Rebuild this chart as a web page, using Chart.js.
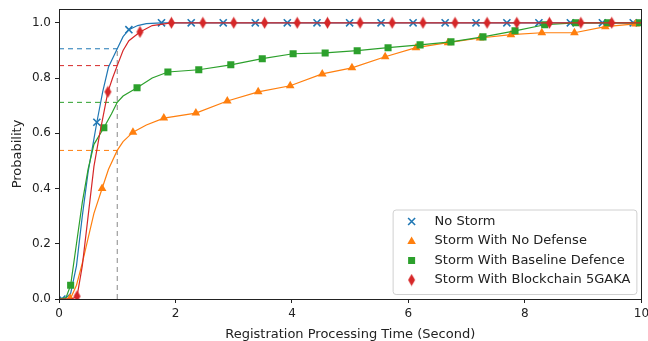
<!DOCTYPE html>
<html>
<head>
<meta charset="utf-8">
<script src="https://cdn.jsdelivr.net/npm/chart.js@4"></script>
<style>
    html, body { margin: 0; padding: 0; background: #fff; }
</style>
</head>
<body>
<canvas id="cdfChart" width="648" height="341"></canvas>
<script>
// series labels
const seriesLabels = ['No Storm', 'Storm With No Defense', 'Storm With Baseline Defence', 'Storm With Blockchain 5GAKA'];

// line paths
const noStormX = [0, 0.1, 0.2, 0.3, 0.4, 0.5, 0.6, 0.65, 0.75, 0.85, 1.0, 1.1, 1.2, 1.35, 1.5, 1.76, 10];
const noStormY = [0, 0.0, 0.02, 0.12, 0.3, 0.46, 0.58, 0.64, 0.75, 0.84, 0.906, 0.95, 0.975, 0.99, 0.997, 1.0, 1.0];
const noDefX = [0, 0.15, 0.2, 0.3, 0.4, 0.5, 0.6, 0.74, 0.85, 1.0, 1.1, 1.27, 1.5, 1.8, 2.35, 2.89, 3.42, 3.97, 4.52, 5.03, 5.6, 6.13, 6.68, 7.23, 7.76, 8.29, 8.85, 9.38, 9.9, 10];
const noDefY = [0, 0.0, 0.003, 0.05, 0.13, 0.22, 0.31, 0.40, 0.47, 0.538, 0.57, 0.604, 0.63, 0.655, 0.673, 0.717, 0.75, 0.772, 0.815, 0.837, 0.877, 0.91, 0.928, 0.945, 0.957, 0.964, 0.964, 0.986, 0.996, 1.0];
const baselineX = [0, 0.12, 0.2, 0.3, 0.4, 0.5, 0.6, 0.77, 0.9, 1.0, 1.1, 1.34, 1.6, 1.87, 2.4, 2.95, 3.49, 4.02, 4.57, 5.12, 5.65, 6.2, 6.73, 7.28, 7.83, 8.34, 8.87, 9.42, 9.97, 10];
const baselineY = [0, 0.005, 0.05, 0.2, 0.35, 0.47, 0.56, 0.62, 0.67, 0.712, 0.735, 0.765, 0.8, 0.822, 0.83, 0.848, 0.87, 0.888, 0.891, 0.899, 0.91, 0.92, 0.931, 0.949, 0.971, 0.993, 1.0, 1.0, 1.0, 1.0];
const blockX = [0, 0.22, 0.31, 0.4, 0.5, 0.6, 0.7, 0.84, 0.92, 1.0, 1.1, 1.2, 1.39, 1.6, 1.93, 10];
const blockY = [0, 0.0, 0.01, 0.12, 0.3, 0.48, 0.6, 0.75, 0.8, 0.845, 0.9, 0.935, 0.967, 0.99, 1.0, 1.0];

// marker positions
const noStormMarkX = [0.05, 0.65, 1.2, 1.76, 2.27, 2.82, 3.37, 3.92, 4.43, 4.99, 5.53, 6.08, 6.63, 7.16, 7.69, 8.24, 8.78, 9.33, 9.86];
const noStormMarkY = [0.0, 0.64, 0.975, 1, 1, 1, 1, 1, 1, 1, 1, 1, 1, 1, 1, 1, 1, 1, 1];
const noDefMarkX = [0.19, 0.74, 1.27, 1.8, 2.35, 2.89, 3.42, 3.97, 4.52, 5.03, 5.6, 6.13, 6.68, 7.23, 7.76, 8.29, 8.85, 9.38, 9.9];
const noDefMarkY = [0.003, 0.40, 0.604, 0.655, 0.673, 0.717, 0.75, 0.772, 0.815, 0.837, 0.877, 0.91, 0.928, 0.945, 0.957, 0.964, 0.964, 0.986, 0.996];
const baselineMarkX = [0.2, 0.77, 1.34, 1.87, 2.4, 2.95, 3.49, 4.02, 4.57, 5.12, 5.65, 6.2, 6.73, 7.28, 7.83, 8.34, 8.87, 9.42, 9.97];
const baselineMarkY = [0.05, 0.62, 0.765, 0.822, 0.83, 0.848, 0.87, 0.888, 0.891, 0.899, 0.91, 0.92, 0.931, 0.949, 0.971, 0.993, 1.0, 1.0, 1.0];
const blockMarkX = [0.31, 0.84, 1.39, 1.93, 2.47, 3.0, 3.53, 4.09, 4.61, 5.17, 5.72, 6.25, 6.8, 7.35, 7.86, 8.42, 8.96, 9.49];
const blockMarkY = [0.01, 0.75, 0.967, 1, 1, 1, 1, 1, 1, 1, 1, 1, 1, 1, 1, 1, 1, 1];

// probability at 1 second for each series
const cutTime = 1.0;
const cutProb = [0.906, 0.538, 0.712, 0.845];

// tick labels
const xTicks = [0, 2, 4, 6, 8, 10];
const yTicks = [0.0, 0.2, 0.4, 0.6, 0.8, 1.0];

const colors = ['#1f77b4', '#ff7f0e', '#2ca02c', '#d62728'];

function zip(xs, ys) {
    return xs.map((x, i) => ({ x: x, y: ys[i] }));
}

// thin diamond like matplotlib 'd'
function thinDiamond(color) {
    const c = document.createElement('canvas');
    c.width = 9; c.height = 13;
    const g = c.getContext('2d');
    g.fillStyle = color;
    g.beginPath();
    g.moveTo(4.5, 0.5); g.lineTo(8, 6.5); g.lineTo(4.5, 12.5); g.lineTo(1, 6.5);
    g.closePath();
    g.fill();
    return c;
}
const diamondImg = thinDiamond(colors[3]);
const markerStyles = ['crossRot', 'triangle', 'rect', diamondImg];
const markerRadius = [5, 5, 5, 5];

const paths = [[noStormX, noStormY], [noDefX, noDefY], [baselineX, baselineY], [blockX, blockY]];
const marks = [[noStormMarkX, noStormMarkY], [noDefMarkX, noDefMarkY], [baselineMarkX, baselineMarkY], [blockMarkX, blockMarkY]];

const datasets = [];
// markers (legend entries), red on top
for (let i = 0; i < 4; i++) {
    datasets.push({
        label: seriesLabels[i],
        data: zip(marks[i][0], marks[i][1]),
        showLine: false,
        pointStyle: markerStyles[i],
        pointRadius: markerRadius[i],
        pointBackgroundColor: colors[i],
        pointBorderColor: colors[i],
        pointBorderWidth: i == 0 ? 1.6 : 0,
        order: 10 - i * 2,
    });
    datasets.push({
        label: '_line' + i,
        data: zip(paths[i][0], paths[i][1]),
        showLine: true,
        borderColor: colors[i],
        borderWidth: 1.2,
        pointRadius: 0,
        tension: 0,
        order: 11 - i * 2,
    });
    datasets.push({
        label: '_cut' + i,
        data: [{ x: 0, y: cutProb[i] }, { x: cutTime, y: cutProb[i] }],
        showLine: true,
        borderColor: colors[i],
        borderWidth: 1,
        borderDash: [5, 4],
        pointRadius: 0,
        order: 20,
    });
}
datasets.push({
    label: '_cutV',
    data: [{ x: cutTime, y: 0 }, { x: cutTime, y: Math.max(...cutProb) }],
    showLine: true,
    borderColor: '#888',
    borderWidth: 1,
    borderDash: [5, 4],
    pointRadius: 0,
    order: 20,
});

function drawLegendMarker(ctx, i, x, y) {
    ctx.save();
    ctx.fillStyle = colors[i];
    ctx.strokeStyle = colors[i];
    if (i == 0) {
        ctx.lineWidth = 1.6;
        ctx.beginPath();
        ctx.moveTo(x - 3.5, y - 3.5); ctx.lineTo(x + 3.5, y + 3.5);
        ctx.moveTo(x + 3.5, y - 3.5); ctx.lineTo(x - 3.5, y + 3.5);
        ctx.stroke();
    } else if (i == 1) {
        ctx.beginPath();
        ctx.moveTo(x, y - 4.5); ctx.lineTo(x + 4.3, y + 3); ctx.lineTo(x - 4.3, y + 3);
        ctx.closePath(); ctx.fill();
    } else if (i == 2) {
        ctx.fillRect(x - 3.5, y - 3.5, 7, 7);
    } else {
        ctx.drawImage(diamondImg, x - 4.5, y - 6.5);
    }
    ctx.restore();
}

const framePlugin = {
    id: 'frameAndLegend',
    afterDraw(chart) {
        const ctx = chart.ctx;
        const a = chart.chartArea;
        ctx.save();
        ctx.strokeStyle = '#222';
        ctx.lineWidth = 1;
        ctx.strokeRect(Math.round(a.left) + 0.5, Math.round(a.top) + 0.5, Math.round(a.right - a.left), Math.round(a.bottom - a.top));

        // legend box, lower right
        ctx.font = '13px "DejaVu Sans"';
        const textW = Math.max(...seriesLabels.map((s) => ctx.measureText(s).width));
        const w = textW + 48, rowH = 19.5, h = rowH * 3 + 26;
        const bx = a.right - 5 - w, by = a.bottom - 5 - h;
        ctx.fillStyle = 'rgba(255,255,255,0.8)';
        ctx.strokeStyle = '#d0d0d0';
        ctx.beginPath();
        ctx.roundRect(bx + 0.5, by + 0.5, w, h, 3);
        ctx.fill();
        ctx.stroke();
        ctx.textBaseline = 'middle';
        seriesLabels.forEach((s, i) => {
            const ry = by + 12 + i * rowH;
            drawLegendMarker(ctx, i, bx + 19, ry);
            ctx.fillStyle = '#222';
            ctx.fillText(s, bx + 42, ry);
        });
        ctx.restore();
    },
};

new Chart(document.getElementById('cdfChart'), {
    type: 'scatter',
    data: { datasets: datasets },
    options: {
        responsive: false,
        animation: false,
        layout: { padding: { top: 9, right: 3, left: 0, bottom: 0 } },
        plugins: {
            legend: { display: false },
            tooltip: { enabled: false },
        },
        scales: {
            x: {
                type: 'linear',
                min: 0,
                max: 10,
                afterBuildTicks: (scale) => { scale.ticks = xTicks.map((v) => ({ value: v })); },
                afterFit: (scale) => {
                    scale.height = 42;
                    scale.paddingLeft = 0;
                    scale.paddingRight = 0;
                },
                ticks: {
                    color: '#222',
                    font: { family: 'DejaVu Sans', size: 12 },
                    padding: 4,
                    maxRotation: 0,
                    callback: (v) => String(v),
                },
                grid: { display: true, drawOnChartArea: false, drawTicks: true, tickLength: 4, color: '#222' },
                border: { display: true, color: '#222' },
                title: {
                    display: true,
                    text: 'Registration Processing Time (Second)',
                    color: '#222',
                    font: { family: 'DejaVu Sans', size: 13 },
                    padding: { top: 0, bottom: -1 },
                },
            },
            y: {
                type: 'linear',
                min: 0,
                max: 1.05,
                afterBuildTicks: (scale) => { scale.ticks = yTicks.map((v) => ({ value: v })); },
                afterFit: (scale) => {
                    scale.width = 59;
                    scale.paddingTop = 0;
                    scale.paddingBottom = 0;
                },
                ticks: {
                    color: '#222',
                    font: { family: 'DejaVu Sans', size: 12 },
                    padding: 4,
                    callback: (v) => Number(v).toFixed(1),
                },
                grid: { display: true, drawOnChartArea: false, drawTicks: true, tickLength: 4, color: '#222' },
                border: { display: true, color: '#222' },
                title: {
                    display: true,
                    text: 'Probability',
                    color: '#222',
                    font: { family: 'DejaVu Sans', size: 13 },
                    padding: { top: 10, bottom: 4 },
                },
            },
        },
    },
    plugins: [framePlugin],
});
</script>
</body>
</html>
